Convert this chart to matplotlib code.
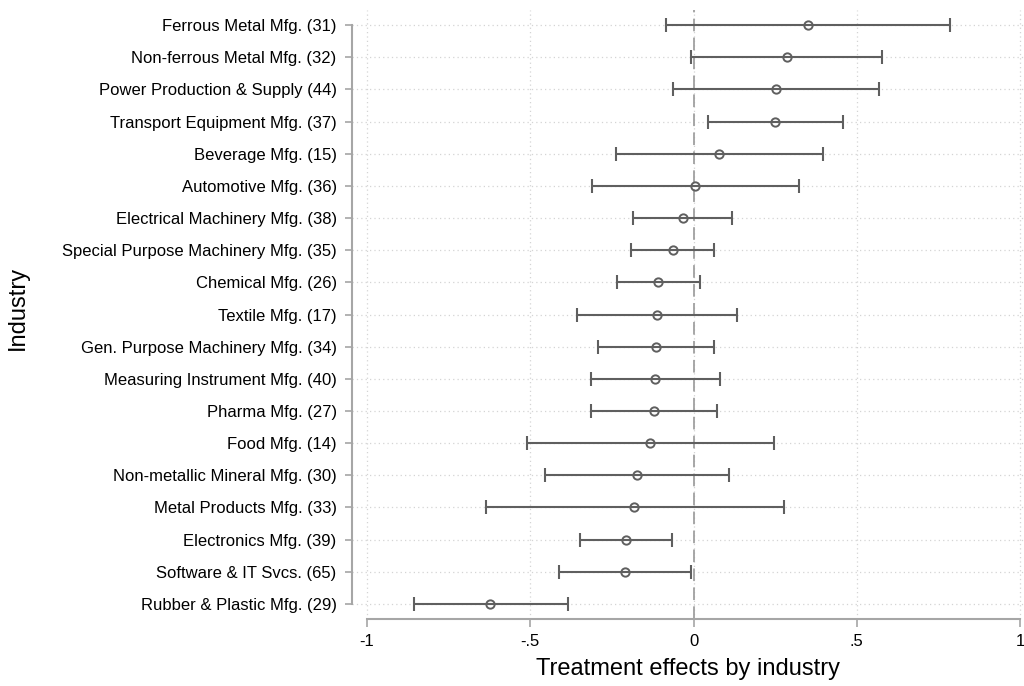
import matplotlib
matplotlib.use("Agg")
import matplotlib.pyplot as plt
import numpy as np

plt.rcParams["font.family"] = ["Liberation Sans", "DejaVu Sans"]

# industries, top to bottom
industries = [
    "Ferrous Metal Mfg. (31)",
    "Non-ferrous Metal Mfg. (32)",
    "Power Production & Supply (44)",
    "Transport Equipment Mfg. (37)",
    "Beverage Mfg. (15)",
    "Automotive Mfg. (36)",
    "Electrical Machinery Mfg. (38)",
    "Special Purpose Machinery Mfg. (35)",
    "Chemical Mfg. (26)",
    "Textile Mfg. (17)",
    "Gen. Purpose Machinery Mfg. (34)",
    "Measuring Instrument Mfg. (40)",
    "Pharma Mfg. (27)",
    "Food Mfg. (14)",
    "Non-metallic Mineral Mfg. (30)",
    "Metal Products Mfg. (33)",
    "Electronics Mfg. (39)",
    "Software & IT Svcs. (65)",
    "Rubber & Plastic Mfg. (29)",
]
estimate = [0.351, 0.285, 0.252, 0.250, 0.079, 0.005, -0.033, -0.064, -0.108,
            -0.112, -0.114, -0.117, -0.121, -0.133, -0.173, -0.181, -0.208,
            -0.210, -0.622]
ci_low = [-0.083, -0.007, -0.063, 0.043, -0.237, -0.310, -0.184, -0.191, -0.235,
          -0.356, -0.292, -0.315, -0.315, -0.511, -0.456, -0.636, -0.348,
          -0.413, -0.855]
ci_high = [0.786, 0.577, 0.568, 0.457, 0.397, 0.322, 0.118, 0.062, 0.021,
           0.134, 0.063, 0.081, 0.072, 0.247, 0.110, 0.276, -0.066,
           -0.007, -0.386]

x_ticks = [-1, -0.5, 0, 0.5, 1]
x_ticklabels = ["-1", "-.5", "0", ".5", "1"]

est = np.array(estimate)
lo = np.array(ci_low)
hi = np.array(ci_high)
n = len(industries)
ypos = np.arange(n, 0, -1)

fig = plt.figure(figsize=(10.24, 6.86), dpi=100)
ax = fig.add_axes([352 / 1024, 1 - 619 / 686, 672 / 1024, 609 / 686])

spine_col = "#a6a6a6"
grid_col = "#d4d4d4"
bar_col = "#5f5f5f"

# grid
for y in ypos:
    ax.axhline(y, color=grid_col, lw=0.9, ls=(0, (1, 2.5)), zorder=0)
for x in x_ticks:
    ax.axvline(x, color=grid_col, lw=0.9, ls=(0, (1, 2.5)), zorder=0)

ax.axvline(0, color="#a0a0a0", lw=1.3, ls=(0, (7, 3.5)), zorder=1)

ax.errorbar(est, ypos, xerr=[est - lo, hi - est], fmt="none", ecolor=bar_col,
            elinewidth=1.5, capsize=5, capthick=1.5, zorder=2)
ax.plot(est, ypos, "o", ms=6, mfc="none", mec=bar_col, mew=1.4, zorder=3)

ax.set_xlim(-1.046, 1.012)
ax.set_ylim(0.53, n + 0.47)

ax.set_xticks(x_ticks)
ax.set_xticklabels(x_ticklabels, fontsize=12)
ax.set_yticks(ypos)
ax.set_yticklabels(industries, fontsize=12)

for s in ["top", "right"]:
    ax.spines[s].set_visible(False)
for s in ["left", "bottom"]:
    ax.spines[s].set_color(spine_col)
    ax.spines[s].set_linewidth(1.5)
ax.spines["left"].set_bounds(1, n)
ax.spines["bottom"].set_bounds(-1, 1)

ax.tick_params(axis="y", length=5, width=1.2, color=spine_col, pad=6)
ax.tick_params(axis="x", length=6, width=1.2, color=spine_col, pad=5)

ax.set_xlabel("Treatment effects by industry", fontsize=17, labelpad=6)
ax.set_ylabel("Industry", fontsize=17)
ax.yaxis.set_label_coords((29 - 352) / 672, (619 - 308) / 609)

fig.savefig("out.png", dpi=100)
